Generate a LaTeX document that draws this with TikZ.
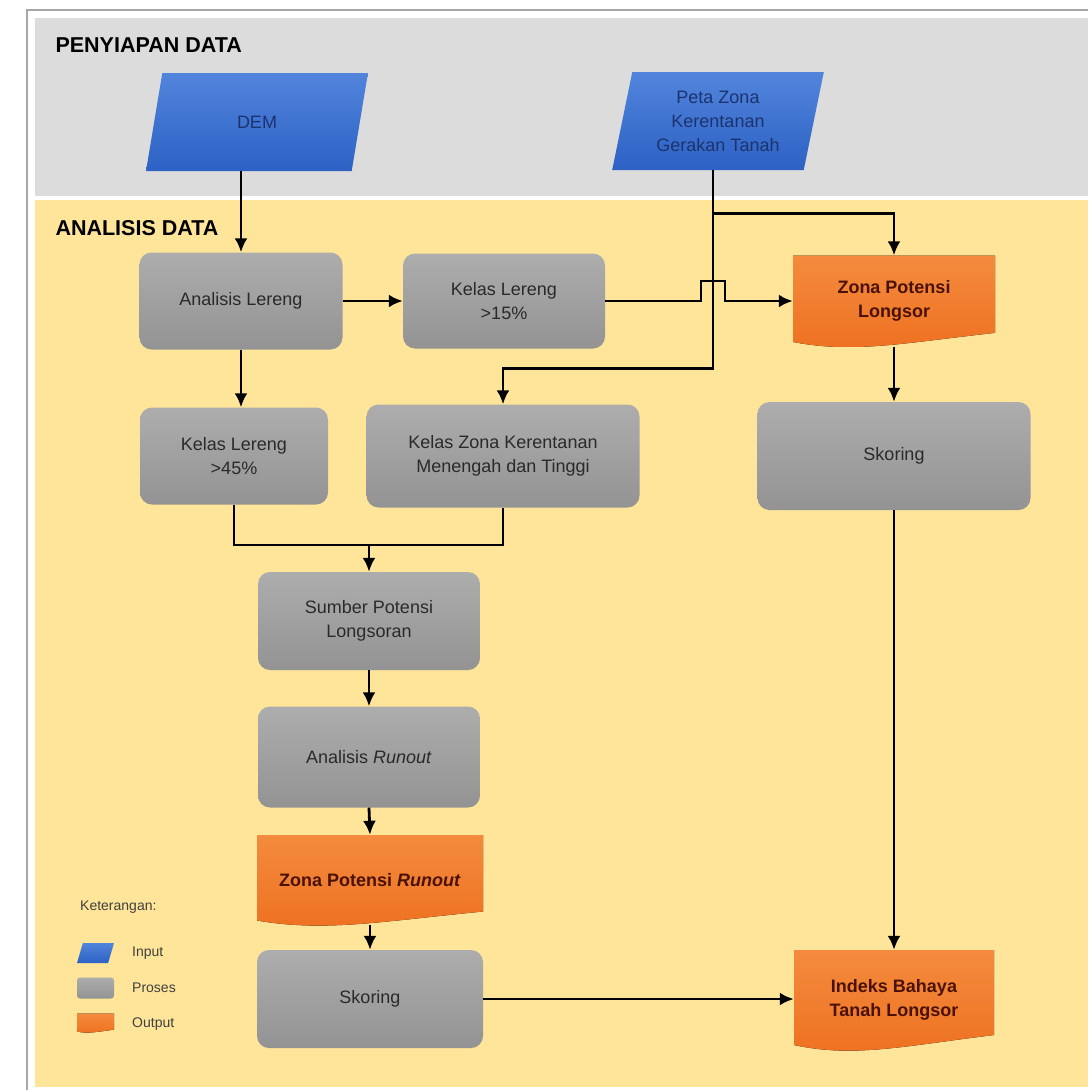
\documentclass[tikz,border=0pt]{standalone}
\usepackage{fontspec}
\setmainfont{Liberation Sans}
\usetikzlibrary{shapes.geometric,arrows.meta,positioning,calc}
\definecolor{fcband}{HTML}{DCDCDC}
\definecolor{fcarea}{HTML}{FEE599}
\definecolor{fcframe}{HTML}{A6A6A6}
\definecolor{fcinlight}{HTML}{5185DC}
\definecolor{fcin}{HTML}{2D61C4}
\definecolor{fcintext}{HTML}{1C336E}
\definecolor{fcprlight}{HTML}{ADADAD}
\definecolor{fcpr}{HTML}{939393}
\definecolor{fcprtext}{HTML}{2A2A2A}
\definecolor{fcoutlight}{HTML}{F48B3E}
\definecolor{fcout}{HTML}{EE7020}
\definecolor{fcouttext}{HTML}{4A1206}

\begin{document}
\begin{tikzpicture}[x=1pt, y=1pt,
    every node/.style={font=\fontsize{18}{24}\selectfont},
    inbox/.style={trapezium, trapezium left angle=77, trapezium right angle=103, trapezium stretches=true, top color=fcinlight, bottom color=fcin, text=fcintext, align=center, minimum height=98pt, inner sep=2pt},
    procbox/.style={rectangle, rounded corners=12pt, top color=fcprlight, bottom color=fcpr, text=fcprtext, align=center, inner sep=2pt},
    outbox/.style={rectangle, align=center, text=fcouttext, font=\fontsize{18}{24}\selectfont\bfseries, inner sep=2pt,
        path picture={
            \fill[top color=fcoutlight, bottom color=fcout]
                let \p1=(path picture bounding box.south west), \p2=(path picture bounding box.north east),
                    \n1={\y2-\y1}, \n2={\x2-\x1} in
                (\x1,\y2) -- (\x2,\y2) -- (\x2,\y1+0.15*\n1)
                .. controls (\x2-0.45*\n2,\y1+0.04*\n1) and (\x1+0.3*\n2,\y1-0.08*\n1) .. (\x1,\y1+0.05*\n1) -- cycle;
        }},
    conn/.style={line width=2.8pt, draw=black},
    arr/.style={conn, -{Latex[length=14pt,width=13pt]}},
    legtxt/.style={font=\fontsize{14}{16}\selectfont, text=black!75, inner sep=0pt}
]
\useasboundingbox (0,0) rectangle (1088,-1090);

% panels
\fill[white] (0,0) rectangle (1088,-1090);
\fill[fcband] (35,-18) rectangle (1088,-196);
\fill[fcarea] (35,-200) rectangle (1088,-1087);
\draw[fcframe, line width=1.5pt] (27,-1090) -- (27,-10) -- (1088,-10);
\node[anchor=west, font=\fontsize{21.5}{24}\selectfont\bfseries] (ttlprep) at (52,-45) {PENYIAPAN DATA};
\node[anchor=west, font=\fontsize{21.5}{24}\selectfont\bfseries] (ttlanal) at (52,-228) {ANALISIS DATA};

% input
\node[inbox, minimum width=223pt] (dem) at (257,-122) {DEM};
\node[inbox, minimum width=212pt] (peta) at (718,-121) {Peta Zona\\Kerentanan\\Gerakan Tanah};

% proses
\node[procbox, minimum width=203pt, minimum height=97pt] (lereng) at (241,-301) {Analisis Lereng};
\node[procbox, minimum width=202pt, minimum height=95pt] (kl15) at (504,-301) {Kelas Lereng\\>15\%};
\node[procbox, minimum width=188pt, minimum height=97pt] (kl45) at (234,-456) {Kelas Lereng\\>45\%};
\node[procbox, minimum width=273pt, minimum height=103pt] (kzona) at (503,-456) {Kelas Zona Kerentanan\\Menengah dan Tinggi};
\node[procbox, minimum width=273pt, minimum height=108pt] (skor2) at (894,-456) {Skoring};
\node[procbox, minimum width=222pt, minimum height=98pt] (sumber) at (369,-621) {Sumber Potensi\\Longsoran};
\node[procbox, minimum width=222pt, minimum height=101pt] (runout) at (369,-757) {Analisis \textit{Runout}};
\node[procbox, minimum width=226pt, minimum height=98pt] (skor1) at (370,-999) {Skoring};

% output
\node[outbox, minimum width=202pt, minimum height=91pt] (zpl) at (894,-301) {Zona Potensi\\Longsor};
\node[outbox, minimum width=226pt, minimum height=90pt] (zpr) at (370,-880) {Zona Potensi \textit{Runout}};
\node[outbox, minimum width=200pt, minimum height=100pt] (indeks) at (894,-1000) {Indeks Bahaya\\Tanah Longsor};

% connectors
\draw[arr] (dem.south -| lereng.north) -- (lereng.north);
\draw[arr] (lereng.east) -- (lereng.east -| kl15.west);
\draw[arr] (lereng.south) -- (lereng.south |- kl45.north);
\coordinate (trunk) at ([xshift=-5pt]peta.south);
\draw[arr] (trunk) -- ++(0,-43) -| (zpl.north);
\draw[arr] (trunk) -- ++(0,-198) -| (kzona.north);
\coordinate (jump) at (trunk |- kl15.east);
\draw[arr] (kl15.east) -- ([xshift=-12pt]jump) -- ++(0,20) -- ++(24,0) -- ++(0,-20) -- (jump -| zpl.west);
\coordinate (join) at (sumber.north |- 0,-545);
\draw[conn] (kl45.south) |- (join) -| (kzona.south);
\draw[arr] (join) -- (sumber.north);
\draw[arr] (sumber.south) -- (runout.north);
\draw[arr] (runout.south) -- (zpr.north);
\draw[arr] (zpr.south) -- (skor1.north);
\draw[arr] (skor1.east) -- (skor1.east -| indeks.west);
\draw[arr] (zpl.south) -- (skor2.north);
\draw[arr] (skor2.south) -- (indeks.north);

% legend
\node[legtxt, anchor=west] (ket) at (80,-907) {Keterangan:};
\node[inbox, minimum width=37pt, minimum height=20pt, inner sep=1pt] (lgin) at (95.5,-953) {};
\node[procbox, minimum width=37pt, minimum height=21pt, inner sep=1pt, rounded corners=3pt] (lgproc) at (95.5,-988) {};
\node[outbox, minimum width=37pt, minimum height=19pt, inner sep=1pt] (lgout) at (95.5,-1023) {};
\node[legtxt, anchor=west] (lginlbl) at (132,-953) {Input};
\node[legtxt, anchor=west] (lgproclbl) at (132,-988) {Proses};
\node[legtxt, anchor=west] (lgoutlbl) at (132,-1024) {Output};
\end{tikzpicture}
\end{document}
